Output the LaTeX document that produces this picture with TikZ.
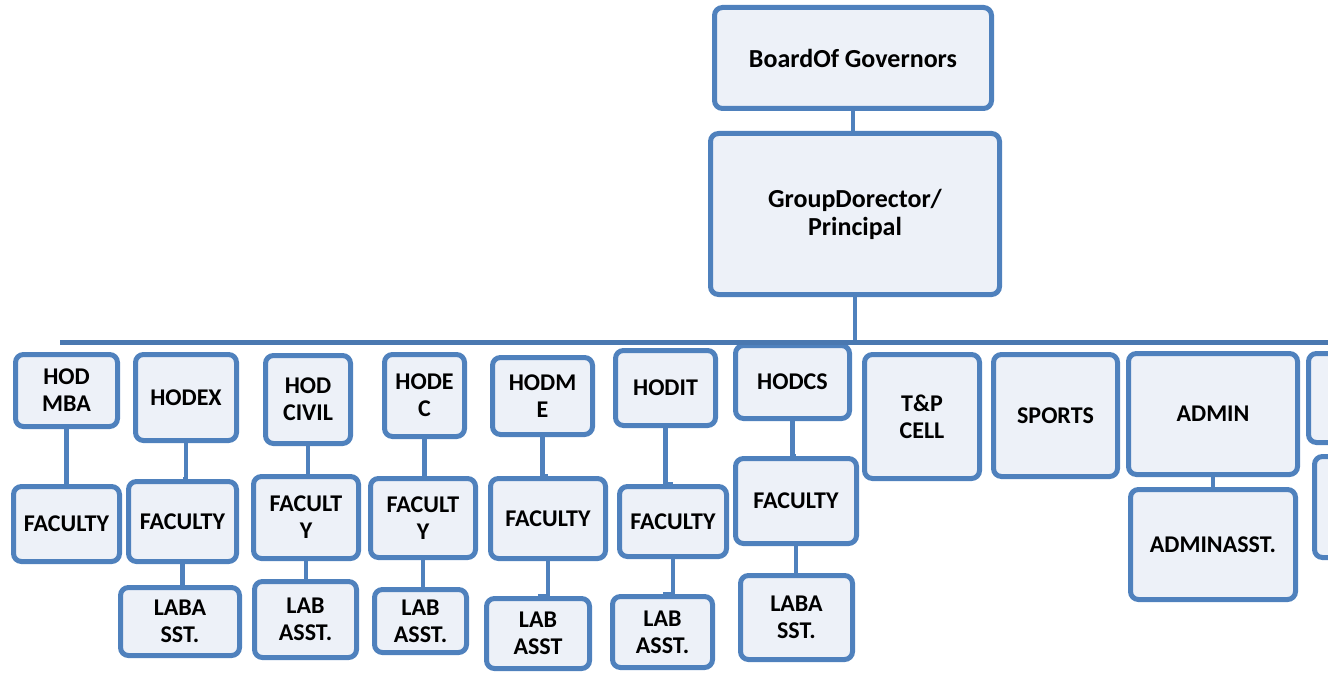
\documentclass[tikz,border=0pt]{standalone}
\usepackage{fontspec}
\setmainfont{Carlito}
\definecolor{unitline}{HTML}{4F81BD}
\definecolor{unitfill}{HTML}{EDF1F8}
\definecolor{busline}{HTML}{4A78B0}

\begin{document}
\begin{tikzpicture}[
  x = 1pt, y = -1pt,
  boxsize/.style 2 args = {minimum width = #1pt - 1pt, minimum height = #2pt - 1pt},
  unit/.style = {draw = unitline, fill = unitfill, line width = 5pt,
    rounded corners = 8pt, align = center, inner sep = 0pt,
    font = \fontsize{24}{27}\selectfont\bfseries},
  topunit/.style = {unit, font = \fontsize{26}{28}\selectfont\bfseries},
  link/.style = {draw = unitline, line width = 4.5pt}
]
  \useasboundingbox (0, 0) rectangle (1328, 674);
  \clip (0, 0) rectangle (1328, 674);

  \node[topunit, boxsize = {278}{102}] (board) at (853, 58) {BoardOf Governors};
  \node[topunit, boxsize = {290}{162}] (principal) at (855, 214)
    {GroupDorector/\\Principal};

  % heads and cells
  \node[unit, boxsize = {103}{73}] (hodmba) at (66.5, 390.5) {HOD\\MBA};
  \node[unit, boxsize = {102}{87}] (hodex) at (186, 397.5) {HODEX};
  \node[unit, boxsize = {86}{89}] (hodcivil) at (308, 399.5) {HOD\\CIVIL};
  \node[unit, boxsize = {81}{83}] (hodec) at (424.5, 395.5) {HODE\\C};
  \node[unit, boxsize = {101}{78}] (hodme) at (542.5, 396) {HODM\\E};
  \node[unit, boxsize = {101}{76}] (hodit) at (665.5, 388) {HODIT};
  \node[unit, boxsize = {115}{74}] (hodcs) at (792.5, 382) {HODCS};
  \node[unit, boxsize = {116}{125}] (tpcell) at (922, 416.5) {T\&P\\CELL};
  \node[unit, boxsize = {125}{123}] (sports) at (1055.5, 415.5) {SPORTS};
  \node[unit, boxsize = {170}{122}] (admin) at (1213, 414) {ADMIN};
  \node[unit, boxsize = {104}{90}] (extraA) at (1360, 398) {};
  \node[unit, boxsize = {102}{102}] (extraB) at (1365, 507) {};

  % faculty
  \node[unit, boxsize = {107}{76}] (facmba) at (66.5, 524) {FACULTY};
  \node[unit, boxsize = {109}{81}] (facex) at (182.5, 521.5) {FACULTY};
  \node[unit, boxsize = {106}{83}] (faccivil) at (306, 517.5) {FACULT\\Y};
  \node[unit, boxsize = {106}{80}] (facec) at (423, 518) {FACULT\\Y};
  \node[unit, boxsize = {116}{81}] (facme) at (548, 518.5) {FACULTY};
  \node[unit, boxsize = {108}{71}] (facit) at (673, 521.5) {FACULTY};
  \node[unit, boxsize = {122}{86}] (faccs) at (796, 501) {FACULTY};
  \node[unit, boxsize = {166}{111}] (adminasst) at (1213, 544.5) {ADMINASST.};

  % lab assistants
  \node[unit, boxsize = {120}{69}] (labex) at (180, 621.5) {LABA\\SST.};
  \node[unit, boxsize = {103}{77}] (labcivil) at (305.5, 619.5) {LAB\\ASST.};
  \node[unit, boxsize = {93}{64}] (labec) at (420.5, 621) {LAB\\ASST.};
  \node[unit, boxsize = {104}{71}] (labme) at (538, 633.5) {LAB\\ASST};
  \node[unit, boxsize = {101}{72}] (labit) at (662.5, 632) {LAB\\ASST.};
  \node[unit, boxsize = {113}{85}] (labcs) at (796.5, 617.5) {LABA\\SST.};

  % bus
  \coordinate (busleft) at (60, 342);
  \coordinate (busright) at (1328, 342);
  \draw[link] (principal.south) -- (principal.south |- busleft);
  \draw[link, draw = busline, line width = 5pt] (busleft) -- (busright);

  \foreach \up/\down in {board/principal, hodmba/facmba, hodex/facex,
      hodcivil/faccivil, hodec/facec, hodme/facme, hodit/facit, hodcs/faccs,
      admin/adminasst, facex/labex, faccivil/labcivil, facec/labec,
      facme/labme, facit/labit, faccs/labcs}
    \draw[link] (\up.south) |- (\down.north);
\end{tikzpicture}
\end{document}
